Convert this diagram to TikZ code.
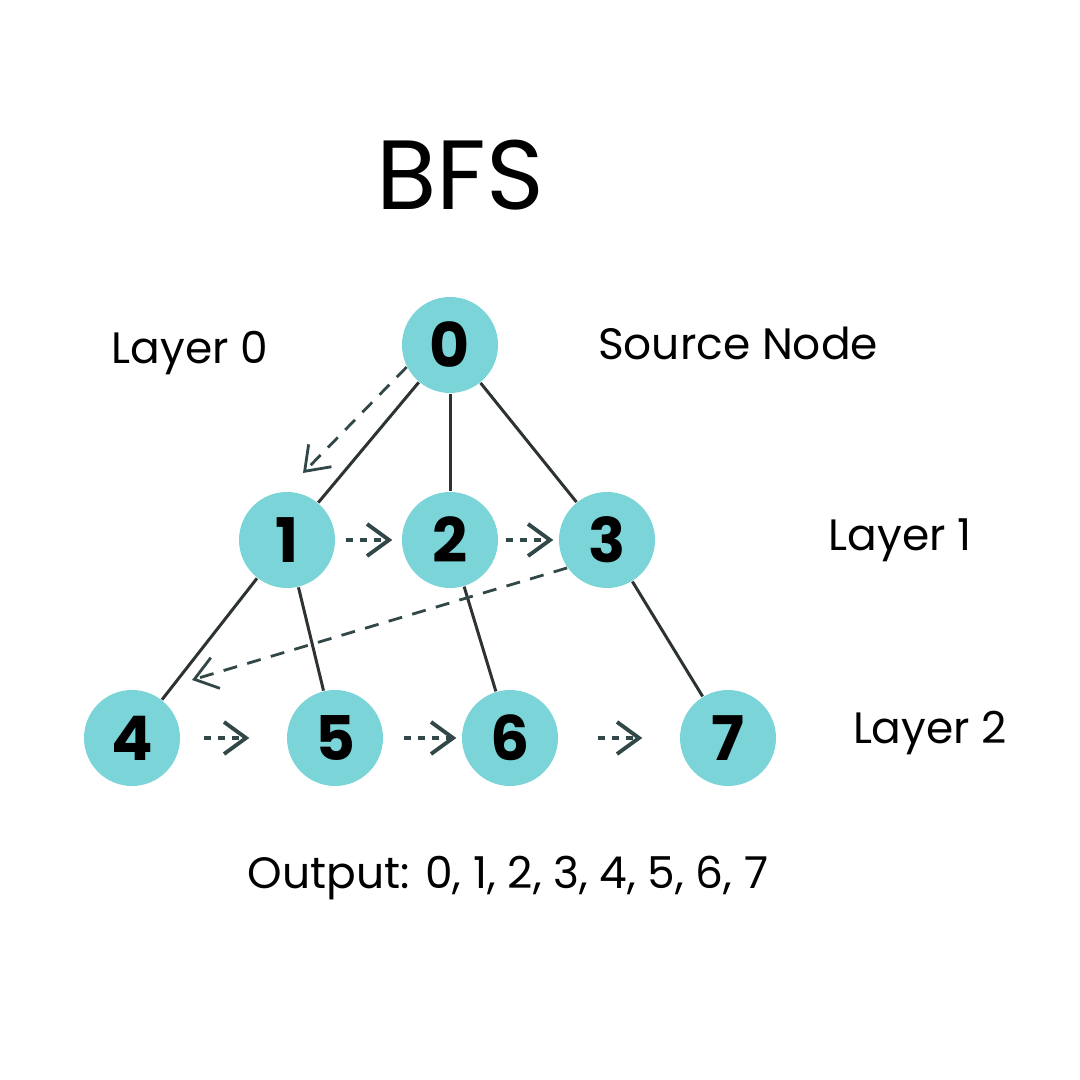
\documentclass[tikz,border=0pt]{standalone}
\usepackage{fontspec}
\setmainfont{Poppins}
\usetikzlibrary{arrows.meta}
\usetikzlibrary{positioning}
\usetikzlibrary{automata}

\definecolor{bfscyan}{RGB}{122,212,216}
\definecolor{edgegray}{RGB}{45,50,50}
\definecolor{walkgray}{RGB}{50,72,72}

\tikzset{
  every state/.style={draw=none,fill=bfscyan,minimum size=0.96cm,inner sep=0pt,
    font=\fontsize{17.5}{18}\selectfont\bfseries},
  label/.style={font=\fontsize{12.5}{14}\selectfont},
  tree/.style={draw=edgegray,line width=0.85pt},
  visit/.style={draw=walkgray,line width=0.8pt,dash pattern=on 4pt off 3pt,
    -{Straight Barb[length=2.2mm,width=3.2mm]}},
  order/.style={draw=walkgray,line width=1.1pt,dash pattern=on 2pt off 2pt,
    -{Straight Barb[length=2.2mm,width=3.2mm]}}
}

\begin{document}
\begin{tikzpicture}[]
  \useasboundingbox (0,0) rectangle (10.8,10.8);

  \node[font=\fontsize{28}{30}\selectfont] (title) at (4.60,9.05) {BFS};

  % layer 0
  \node[state] (q_0) at (4.50,7.35) {0};
  % layer 1
  \node[state] (q_1) at (2.87,5.40) {1};
  \node[state] (q_2) at (4.50,5.40) {2};
  \node[state] (q_3) at (6.07,5.40) {3};
  % layer 2
  \node[state] (q_4) at (1.32,3.42) {4};
  \node[state] (q_5) at (3.35,3.42) {5};
  \node[state] (q_6) at (5.10,3.42) {6};
  \node[state] (q_7) at (7.28,3.42) {7};

  \node[label] (l_0) at (1.90,7.27) {Layer 0};
  \node[label] (src) at (7.38,7.37) {Source Node};
  \node[label] (l_1) at (9.00,5.40) {Layer 1};
  \node[label] (l_2) at (9.30,3.47) {Layer 2};
  \node[label] (out) at (5.08,2.02) {Output: 0, 1, 2, 3, 4, 5, 6, 7};

  \coordinate (to_1) at (3.03,6.07);
  \coordinate (to_4) at (1.92,4.00);

  \path[tree]
    (q_0) edge (q_1)
    (q_0) edge (q_2)
    (q_0) edge (q_3)
    (q_1) edge (q_4)
    (q_1) edge (q_5)
    (q_2) edge (q_6)
    (q_3) edge (q_7);

  \draw[visit] (q_0.207) -- (to_1);
  \draw[visit] (q_3.215) -- (to_4);

  \path[order]
    (q_1) edge [shorten <=0.1cm, shorten >=0.09cm] (q_2)
    (q_2) edge [shorten <=0.07cm, shorten >=0.05cm] (q_3)
    (q_4) edge [shorten <=0.23cm, shorten >=0.37cm] (q_5)
    (q_5) edge [shorten <=0.2cm, shorten >=0.05cm] (q_6)
    (q_6) edge [shorten <=0.39cm, shorten >=0.37cm] (q_7);
\end{tikzpicture}
\end{document}
